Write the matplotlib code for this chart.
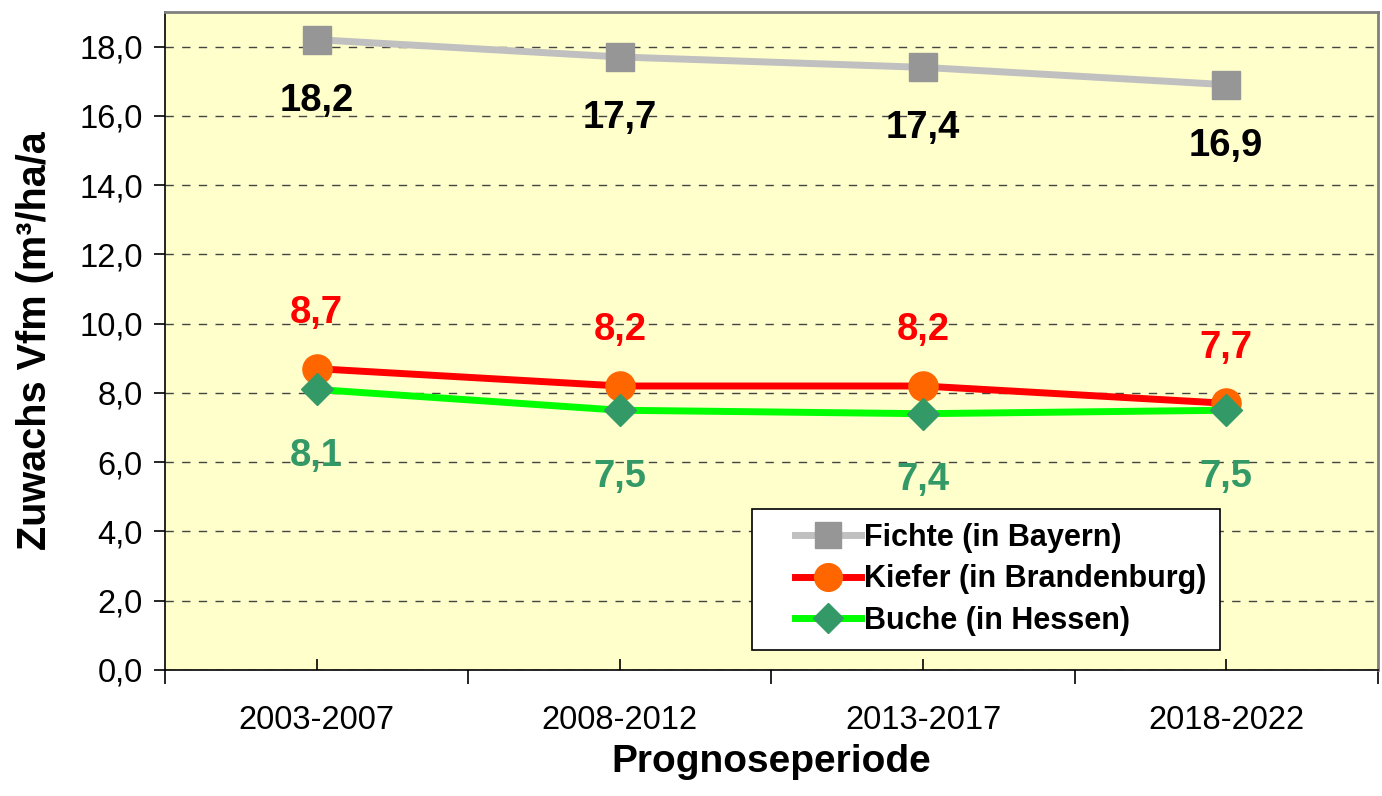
import matplotlib
matplotlib.use('Agg')
import numpy as np
import matplotlib.pyplot as plt
from matplotlib.ticker import FixedLocator, FuncFormatter
from matplotlib.legend_handler import HandlerLine2D

plt.rcParams['font.family'] = ['Liberation Sans', 'DejaVu Sans']

perioden = ['2003-2007', '2008-2012', '2013-2017', '2018-2022']
fichte = [18.2, 17.7, 17.4, 16.9]
kiefer = [8.7, 8.2, 8.2, 7.7]
buche = [8.1, 7.5, 7.4, 7.5]
namen = ['Fichte (in Bayern)', 'Kiefer (in Brandenburg)', 'Buche (in Hessen)']

x = np.arange(len(perioden))

fig = plt.figure(figsize=(13.82, 7.96), dpi=100)
ax = fig.add_axes([0.1194, 0.1583, 0.8776, 0.8267])
ax.set_facecolor('#FFFFCC')

l1, = ax.plot(x, fichte, color='#C0C0C0', lw=5, marker='s', ms=20,
              mfc='#969696', mec='#969696', label=namen[0], zorder=3)
l2, = ax.plot(x, kiefer, color='#FF0000', lw=5, marker='o', ms=21,
              mfc='#FF6600', mec='#FF6600', label=namen[1], zorder=3)
l3, = ax.plot(x, buche, color='#00FF00', lw=5, marker='D', ms=16,
              mfc='#339966', mec='#339966', label=namen[2], zorder=4)

def fmt(v):
    return ('%.1f' % v).replace('.', ',')

for xi, v in zip(x, fichte):
    ax.annotate(fmt(v), (xi, v), xytext=(0, -44), textcoords='offset points',
                ha='center', va='center', fontsize=27.5, fontweight='bold', color='black')
for xi, v in zip(x, kiefer):
    ax.annotate(fmt(v), (xi, v), xytext=(0, 40), textcoords='offset points',
                ha='center', va='center', fontsize=27.5, fontweight='bold', color='#FF0000')
for xi, v in zip(x, buche):
    ax.annotate(fmt(v), (xi, v), xytext=(0, -48), textcoords='offset points',
                ha='center', va='center', fontsize=27.5, fontweight='bold', color='#339966')

ax.set_xlim(-0.5, 3.5)
ax.set_ylim(0, 19)
ax.set_yticks(np.arange(0, 19, 2))
ax.yaxis.set_major_formatter(FuncFormatter(lambda v, p: fmt(v)))
ax.tick_params(axis='y', labelsize=23.5, length=8, direction='out', width=1.2, pad=8)
ax.grid(axis='y', color='#444444', ls=(0, (6, 6)), lw=1.0)
ax.set_axisbelow(True)

# boundaries as major ticks, category labels on minor ticks
ax.xaxis.set_major_locator(FixedLocator(np.arange(-0.5, 4, 1)))
ax.xaxis.set_major_formatter(FuncFormatter(lambda v, p: ''))
ax.xaxis.set_minor_locator(FixedLocator(x))
ax.set_xticklabels(perioden, minor=True)
ax.tick_params(axis='x', which='major', length=10, direction='out', width=1.2)
ax.tick_params(axis='x', which='minor', length=8, direction='in', width=1.2,
               labelsize=23.5, pad=25)

for s in ['left', 'bottom']:
    ax.spines[s].set_color('black')
    ax.spines[s].set_linewidth(1.2)
for s in ['top', 'right']:
    ax.spines[s].set_color('#808080')
    ax.spines[s].set_linewidth(2)

ax.set_xlabel('Prognoseperiode', fontsize=28, fontweight='bold', labelpad=6)
ax.set_ylabel('Zuwachs Vfm (m³/ha/a', fontsize=28.5, fontweight='bold', labelpad=18)

hm = {h: HandlerLine2D(xpad=0.95) for h in (l1, l2, l3)}
leg = ax.legend(handles=[l1, l2, l3], handler_map=hm,
                loc='lower left', bbox_to_anchor=(0.484, 0.031),
                prop={'weight': 'bold', 'size': 22}, frameon=True, fancybox=False,
                handlelength=3.1, handletextpad=0.1, borderpad=0.46, labelspacing=0.37,
                borderaxespad=0, markerscale=0.95)
leg.get_frame().set_edgecolor('black')
leg.get_frame().set_linewidth(1.2)
leg.get_frame().set_facecolor('white')
leg.get_frame().set_alpha(1)

fig.savefig('out.png', dpi=100)
